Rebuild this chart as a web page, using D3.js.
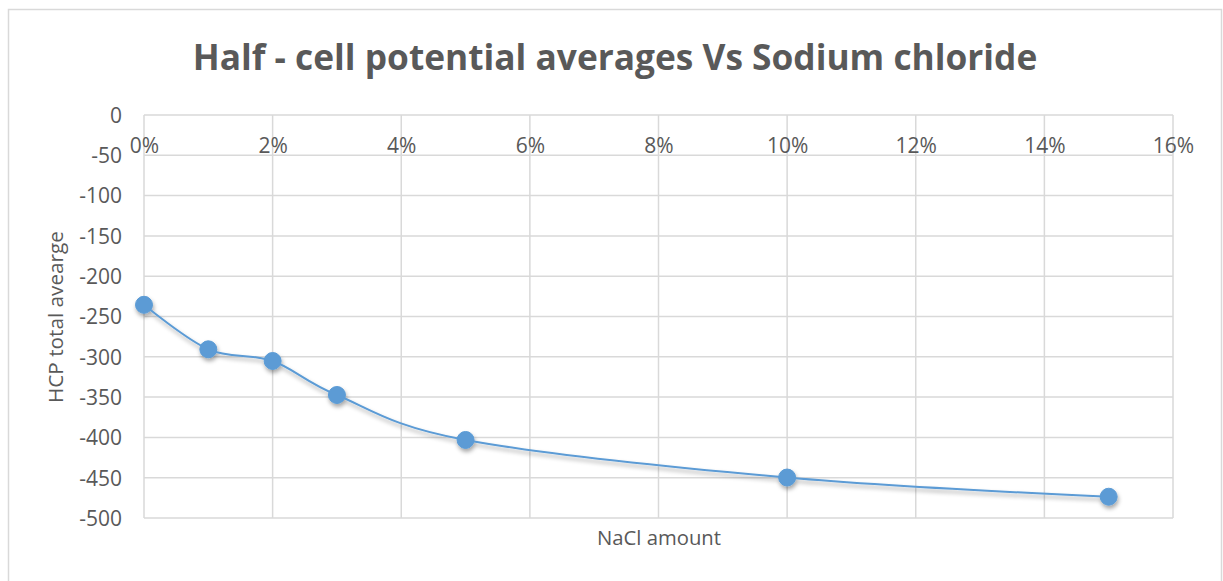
<!DOCTYPE html>
<html>
<head>
<meta charset="utf-8">
<script src="https://cdn.jsdelivr.net/npm/d3@7"></script>
<style>
  html, body { margin: 0; padding: 0; background: #fff; }
  svg { display: block; }
  text { font-family: "Open Sans", "Liberation Sans", sans-serif; fill: #595959; }
</style>
</head>
<body>
<script>
// NaCl concentration (fraction) and half-cell potential averages
const nacl = [0, 0.01, 0.02, 0.03, 0.05, 0.10, 0.15];
const hcp = [-235.5, -290.7, -305.2, -347.4, -403.2, -449.8, -473.6];
const xTicks = [0, 0.02, 0.04, 0.06, 0.08, 0.10, 0.12, 0.14, 0.16];
const yTicks = [0, -50, -100, -150, -200, -250, -300, -350, -400, -450, -500];
const titleText = "Half - cell potential averages Vs Sodium chloride";
const xTitle = "NaCl amount";
const yTitle = "HCP total avearge";

const W = 1223, H = 581;
const svg = d3.select("body").append("svg").attr("width", W).attr("height", H);

const defs = svg.append("defs");
const f = defs.append("filter").attr("id", "shadow")
  .attr("x", "-20%").attr("y", "-20%").attr("width", "140%").attr("height", "160%");
f.append("feDropShadow").attr("dx", 1).attr("dy", 3).attr("stdDeviation", 2)
  .attr("flood-color", "#000").attr("flood-opacity", 0.35);

// chart area border
svg.append("rect").attr("x", 8.5).attr("y", 9.5).attr("width", 1213).attr("height", 600)
  .attr("fill", "#fff").attr("stroke", "#d9d9d9").attr("stroke-width", 1.5);

const x = d3.scaleLinear().domain([0, 0.16]).range([144, 1173]);
const y = d3.scaleLinear().domain([-500, 0]).range([518, 115]);

// horizontal gridlines
svg.append("g").selectAll("line").data(yTicks).join("line")
  .attr("x1", x(0)).attr("x2", x(0.16))
  .attr("y1", d => y(d)).attr("y2", d => y(d))
  .attr("stroke", "#d9d9d9").attr("stroke-width", 1.5);

// vertical gridlines
svg.append("g").selectAll("line").data(xTicks).join("line")
  .attr("x1", d => x(d)).attr("x2", d => x(d))
  .attr("y1", y(0)).attr("y2", y(-500))
  .attr("stroke", "#d9d9d9").attr("stroke-width", 1.5);

const tickFont = 21;

// y axis labels (plain hyphen minus sign)
const yAxis = d3.axisLeft(y).tickValues(yTicks).tickSize(0).tickPadding(0).tickFormat(d => String(d));
const gy = svg.append("g").attr("transform", "translate(122,0)").call(yAxis);
gy.select(".domain").remove();
gy.selectAll("text").attr("font-size", tickFont).attr("fill", "#595959")
  .style("font-family", "'Open Sans', sans-serif").attr("dy", "0.35em");

// x axis labels, placed just below the zero line
const xAxis = d3.axisBottom(x).tickValues(xTicks).tickSize(0).tickPadding(0)
  .tickFormat(d => Math.round(d * 100) + "%");
const gx = svg.append("g").attr("transform", "translate(0,153)").call(xAxis);
gx.select(".domain").remove();
gx.selectAll("text").attr("font-size", tickFont).attr("fill", "#595959")
  .style("font-family", "'Open Sans', sans-serif").attr("y", 0).attr("dy", "0");

// series line and markers
const pts = nacl.map((v, i) => [v, hcp[i]]);
const line = d3.line().x(d => x(d[0])).y(d => y(d[1])).curve(d3.curveCardinal.tension(0));
const series = svg.append("g").attr("filter", "url(#shadow)");
series.append("path").attr("d", line(pts)).attr("fill", "none")
  .attr("stroke", "#5b9bd5").attr("stroke-width", 2);
series.selectAll("circle").data(pts).join("circle")
  .attr("cx", d => x(d[0])).attr("cy", d => y(d[1])).attr("r", 8.5)
  .attr("fill", "#5b9bd5").attr("stroke", "#5b9bd5");

// size a text element so that it spans the given width
function fitWidth(sel, base, width) {
  const w = sel.node().getComputedTextLength();
  sel.attr("font-size", base * width / w);
}

// title
const t = svg.append("text").attr("x", 615).attr("y", 70).attr("text-anchor", "middle")
  .attr("font-size", 34).attr("font-weight", "bold").text(titleText);
fitWidth(t, 34, 845);

// axis titles
const xt = svg.append("text").attr("x", 659).attr("y", 545).attr("text-anchor", "middle")
  .attr("font-size", 18).text(xTitle);
fitWidth(xt, 18, 124);
const yt = svg.append("text").attr("transform", "translate(63,317) rotate(-90)").attr("text-anchor", "middle")
  .attr("font-size", 18).text(yTitle);
fitWidth(yt, 18, 172);
</script>
</body>
</html>
